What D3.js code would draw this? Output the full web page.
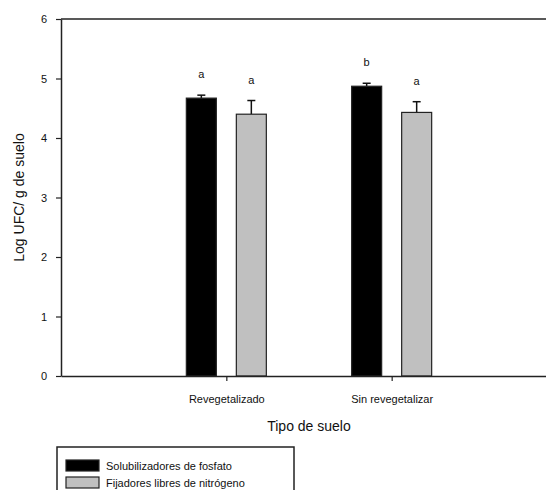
<!DOCTYPE html>
<html>
<head>
<meta charset="utf-8">
<script src="https://cdn.jsdelivr.net/npm/d3@7"></script>
<style>
  body { margin: 0; background: #fff; }
  svg { display: block; font-family: "Liberation Sans", Arial, sans-serif; }
</style>
</head>
<body>
<svg id="chart" width="546" height="490"></svg>
<script>
// data
var categories = ["Revegetalizado", "Sin revegetalizar"];
var seriesNames = ["Solubilizadores de fosfato", "Fijadores libres de nitrógeno"];
var fosfato = [4.67, 4.87];
var fosfatoErr = [0.05, 0.05];
var nitrogeno = [4.40, 4.43];
var nitrogenoErr = [0.23, 0.18];
var letrasFosfato = ["a", "b"];
var letrasNitrogeno = ["a", "a"];
var yTicks = [0, 1, 2, 3, 4, 5, 6];

var svg = d3.select("#chart");

// plot box (window.top is reserved, so own names here)
var pLeft = 61, pTop = 19, pBottom = 376, pRight = 557;

var y = d3.scaleLinear().domain([0, 6]).range([pBottom, pTop]);
var x = d3.scalePoint().domain(categories).range([pLeft, pRight]).padding(1);

var barW = 30, gap = 20;
var colors = ["#000000", "#c0c0c0"];

// build rows for the bars
var rows = [];
categories.forEach(function (c, i) {
  rows.push({cat: c, s: 0, v: fosfato[i], e: fosfatoErr[i], l: letrasFosfato[i]});
  rows.push({cat: c, s: 1, v: nitrogeno[i], e: nitrogenoErr[i], l: letrasNitrogeno[i]});
});
function bx(d) {
  return d.s == 0 ? x(d.cat) - gap / 2 - barW : x(d.cat) + gap / 2;
}

// top frame line
svg.append("line")
  .attr("x1", pLeft).attr("x2", 546)
  .attr("y1", pTop).attr("y2", pTop)
  .attr("stroke", "#222").attr("stroke-width", 1.5);

// error bars (upper only)
var eb = svg.append("g").selectAll("g").data(rows).enter().append("g");
eb.append("line")
  .attr("x1", function (d) { return bx(d) + barW / 2; })
  .attr("x2", function (d) { return bx(d) + barW / 2; })
  .attr("y1", function (d) { return y(d.v); })
  .attr("y2", function (d) { return y(d.v + d.e); })
  .attr("stroke", "#111").attr("stroke-width", 1.5);
eb.append("line")
  .attr("x1", function (d) { return bx(d) + barW / 2 - 4; })
  .attr("x2", function (d) { return bx(d) + barW / 2 + 4; })
  .attr("y1", function (d) { return y(d.v + d.e); })
  .attr("y2", function (d) { return y(d.v + d.e); })
  .attr("stroke", "#111").attr("stroke-width", 1.5);

// bars
svg.append("g").selectAll("rect").data(rows).enter().append("rect")
  .attr("x", bx)
  .attr("y", function (d) { return y(d.v); })
  .attr("width", barW)
  .attr("height", function (d) { return y(0) - y(d.v); })
  .attr("fill", function (d) { return colors[d.s]; })
  .attr("stroke", "#222").attr("stroke-width", 1.2);

// significance letters
svg.append("g").selectAll("text").data(rows).enter().append("text")
  .attr("x", function (d) { return bx(d) + barW / 2; })
  .attr("y", function (d) { return y(d.v + d.e) - 17; })
  .attr("text-anchor", "middle")
  .attr("font-size", 11)
  .attr("fill", "#111")
  .text(function (d) { return d.l; });

// y axis
var yAxis = svg.append("g")
  .attr("transform", "translate(" + pLeft + ",0)")
  .call(d3.axisLeft(y).tickValues(yTicks).tickFormat(d3.format("d"))
    .tickSize(5).tickPadding(9).tickSizeOuter(0));
yAxis.select(".domain").attr("stroke", "#222").attr("stroke-width", 1.5);
yAxis.selectAll(".tick line").attr("stroke", "#222").attr("stroke-width", 1.2);
yAxis.selectAll("text").attr("font-size", 11).attr("fill", "#111")
  .attr("font-family", "Liberation Sans, Arial, sans-serif");

// x axis
var xAxis = svg.append("g")
  .attr("transform", "translate(0," + pBottom + ")")
  .call(d3.axisBottom(x).tickSize(5).tickPadding(14).tickSizeOuter(0));
xAxis.select(".domain").attr("stroke", "#222").attr("stroke-width", 1.5);
xAxis.selectAll(".tick line").attr("stroke", "#222").attr("stroke-width", 1.2);
xAxis.selectAll("text").attr("font-size", 11).attr("fill", "#111")
  .attr("font-family", "Liberation Sans, Arial, sans-serif");

// axis titles
svg.append("text")
  .attr("x", (pLeft + pRight) / 2).attr("y", 431)
  .attr("text-anchor", "middle")
  .attr("font-size", 14).attr("fill", "#111")
  .text("Tipo de suelo");
svg.append("text")
  .attr("transform", "translate(24," + (pTop + pBottom) / 2 + ") rotate(-90)")
  .attr("text-anchor", "middle")
  .attr("font-size", 14).attr("fill", "#111")
  .text("Log UFC/ g de suelo");

// legend
var lg = svg.append("g");
lg.append("rect")
  .attr("x", 57).attr("y", 447).attr("width", 237).attr("height", 60)
  .attr("fill", "#fff").attr("stroke", "#222").attr("stroke-width", 1.5);
var li = lg.selectAll("g.item").data(seriesNames).enter().append("g")
  .attr("transform", function (d, i) { return "translate(66," + (460 + i * 17) + ")"; });
li.append("rect")
  .attr("width", 33).attr("height", 11)
  .attr("fill", function (d, i) { return colors[i]; })
  .attr("stroke", "#222").attr("stroke-width", 1.2);
li.append("text")
  .attr("x", 40).attr("y", 10)
  .attr("font-size", 11).attr("fill", "#111")
  .text(function (d) { return d; });
</script>
</body>
</html>
